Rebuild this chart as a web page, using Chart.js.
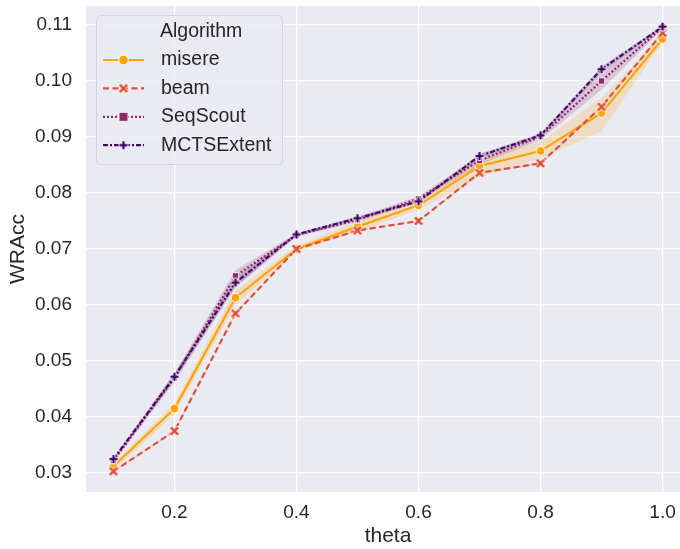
<!DOCTYPE html>
<html lang="en">
<head>
    <meta charset="UTF-8">
    <title>WRAcc by theta</title>
    <style>
        html, body {
            margin: 0;
            padding: 0;
            background: #fff;
            overflow: hidden;
        }

        #chart-box {
            width: 700px;
            height: 549px;
        }
    </style>
</head>
<body>
    <div id="chart-box">
        <canvas id="wracc-chart"></canvas>
    </div>

    <script src="https://cdn.jsdelivr.net/npm/chart.js"></script>

    <script>
        // theta values on the x axis
        const thetas = [0.1, 0.2, 0.3, 0.4, 0.5, 0.6, 0.7, 0.8, 0.9, 1.0];

        const algorithms = ['misere', 'beam', 'SeqScout', 'MCTSExtent'];

        // mean WRAcc per algorithm
        const misere     = [0.0312, 0.0415, 0.0613, 0.0700, 0.0740, 0.0778, 0.0848, 0.0875, 0.0943, 0.1075];
        const beam       = [0.0303, 0.0375, 0.0585, 0.0700, 0.0733, 0.0750, 0.0836, 0.0853, 0.0954, 0.1086];
        const seqScout   = [0.0322, 0.0470, 0.0652, 0.0725, 0.0752, 0.0790, 0.0858, 0.0901, 0.1000, 0.1096];
        const mctsExtent = [0.0325, 0.0472, 0.0640, 0.0726, 0.0755, 0.0785, 0.0866, 0.0903, 0.1021, 0.1097];

        // confidence band bounds
        const misereLow      = [0.0305, 0.0405, 0.0600, 0.0695, 0.0731, 0.0770, 0.0828, 0.0862, 0.0910, 0.1070];
        const misereHigh     = [0.0318, 0.0425, 0.0627, 0.0705, 0.0750, 0.0786, 0.0862, 0.0892, 0.0970, 0.1081];
        const beamLow        = [0.0302, 0.0373, 0.0583, 0.0699, 0.0732, 0.0749, 0.0834, 0.0851, 0.0952, 0.1084];
        const beamHigh       = [0.0304, 0.0377, 0.0587, 0.0701, 0.0734, 0.0751, 0.0838, 0.0855, 0.0956, 0.1088];
        const seqScoutLow    = [0.0319, 0.0462, 0.0632, 0.0722, 0.0748, 0.0784, 0.0850, 0.0895, 0.0985, 0.1093];
        const seqScoutHigh   = [0.0325, 0.0478, 0.0662, 0.0728, 0.0757, 0.0794, 0.0866, 0.0906, 0.1016, 0.1099];
        const mctsExtentLow  = [0.0323, 0.0466, 0.0632, 0.0724, 0.0752, 0.0782, 0.0862, 0.0900, 0.1015, 0.1095];
        const mctsExtentHigh = [0.0327, 0.0478, 0.0648, 0.0728, 0.0758, 0.0788, 0.0870, 0.0906, 0.1026, 0.1099];

        const xTicks = [0.2, 0.4, 0.6, 0.8, 1.0];
        const yTicks = [0.03, 0.04, 0.05, 0.06, 0.07, 0.08, 0.09, 0.10, 0.11];

        const seriesValues = [misere, beam, seqScout, mctsExtent];
        const seriesLow = [misereLow, beamLow, seqScoutLow, mctsExtentLow];
        const seriesHigh = [misereHigh, beamHigh, seqScoutHigh, mctsExtentHigh];

        // styling (inferno, reversed)
        const colors = ['#fca50a', '#dd513a', '#932667', '#420a68'];
        const dashes = [[], [6, 3.5], [2, 2], [5, 2, 2, 2]];
        const markers = ['circle', 'X', 'rect', 'P'];
        const textColor = '#262626';
        const fontFamily = '"Liberation Sans", Arial, sans-serif';

        function rgba(hex, a) {
            const n = parseInt(hex.slice(1), 16);
            return `rgba(${(n >> 16) & 255}, ${(n >> 8) & 255}, ${n & 255}, ${a})`;
        }

        // filled plus / x shaped marker with a white edge
        function shapeMarker(shape, color, size) {
            const s = Math.ceil(size * 1.5) + 2;
            const c = document.createElement('canvas');
            c.width = s;
            c.height = s;
            const g = c.getContext('2d');
            g.translate(s / 2, s / 2);
            if (shape === 'X') g.rotate(Math.PI / 4);
            const r = shape === 'X' ? size * 0.62 : size / 2;
            const w = size / 5.5;
            const pts = [[-w, -r], [w, -r], [w, -w], [r, -w], [r, w], [w, w],
                         [w, r], [-w, r], [-w, w], [-r, w], [-r, -w], [-w, -w]];
            g.beginPath();
            pts.forEach((p, i) => i ? g.lineTo(p[0], p[1]) : g.moveTo(p[0], p[1]));
            g.closePath();
            g.fillStyle = color;
            g.fill();
            g.strokeStyle = '#fff';
            g.lineWidth = 0.9;
            g.stroke();
            return c;
        }

        const pointStyles = markers.map((m, i) =>
            (m === 'X' || m === 'P') ? shapeMarker(m, colors[i], 9) : m);

        const datasets = [];
        algorithms.forEach((name, i) => {
            datasets.push({
                label: name + ' low',
                data: thetas.map((t, j) => ({ x: t, y: seriesLow[i][j] })),
                borderWidth: 0,
                pointRadius: 0,
                fill: false,
                order: 20 + i
            });
            datasets.push({
                label: name + ' high',
                data: thetas.map((t, j) => ({ x: t, y: seriesHigh[i][j] })),
                borderWidth: 0,
                pointRadius: 0,
                backgroundColor: rgba(colors[i], 0.2),
                fill: '-1',
                order: 20 + i
            });
            datasets.push({
                label: name,
                data: thetas.map((t, j) => ({ x: t, y: seriesValues[i][j] })),
                borderColor: colors[i],
                backgroundColor: colors[i],
                borderWidth: 2.2,
                borderDash: dashes[i],
                pointStyle: pointStyles[i],
                pointRadius: markers[i] === 'rect' ? 4.5 : 4.4,
                pointBorderColor: '#fff',
                pointBorderWidth: 0.9,
                pointBackgroundColor: colors[i],
                fill: false,
                order: 10 - i
            });
        });

        const plotBackground = {
            id: 'plotBackground',
            beforeDraw(chart) {
                const { ctx, chartArea: a } = chart;
                ctx.save();
                ctx.fillStyle = '#eaeaf2';
                ctx.fillRect(a.left, a.top, a.right - a.left, a.bottom - a.top);
                ctx.restore();
            }
        };

        // legend box in the upper left of the plot
        const insideLegend = {
            id: 'insideLegend',
            afterDraw(chart) {
                const ctx = chart.ctx;
                const box = { x: 96, y: 15, w: 186, h: 149 };
                ctx.save();
                ctx.beginPath();
                ctx.roundRect(box.x + 0.5, box.y + 0.5, box.w, box.h, 4);
                ctx.fillStyle = 'rgba(234, 234, 242, 0.85)';
                ctx.fill();
                ctx.strokeStyle = '#d4d4da';
                ctx.lineWidth = 1;
                ctx.stroke();

                ctx.font = '19.5px ' + fontFamily;
                ctx.fillStyle = textColor;
                ctx.textBaseline = 'middle';
                ctx.fillText('Algorithm', 160, 32);

                algorithms.forEach((name, i) => {
                    const y = 60 + i * 28.4;
                    ctx.strokeStyle = colors[i];
                    ctx.lineWidth = 2.2;
                    ctx.setLineDash(dashes[i]);
                    ctx.beginPath();
                    ctx.moveTo(103, y);
                    ctx.lineTo(144, y);
                    ctx.stroke();
                    ctx.setLineDash([]);

                    const cx = 123.5;
                    if (markers[i] === 'circle') {
                        ctx.beginPath();
                        ctx.arc(cx, y, 4.8, 0, Math.PI * 2);
                        ctx.fillStyle = colors[i];
                        ctx.fill();
                        ctx.strokeStyle = '#fff';
                        ctx.lineWidth = 0.9;
                        ctx.stroke();
                    } else if (markers[i] === 'rect') {
                        ctx.fillStyle = colors[i];
                        ctx.fillRect(cx - 4.5, y - 4.5, 9, 9);
                        ctx.strokeStyle = '#fff';
                        ctx.lineWidth = 0.9;
                        ctx.strokeRect(cx - 4.5, y - 4.5, 9, 9);
                    } else {
                        const img = pointStyles[i];
                        ctx.drawImage(img, cx - img.width / 2, y - img.height / 2);
                    }

                    ctx.fillStyle = textColor;
                    ctx.fillText(name, 161, y);
                });
                ctx.restore();
            }
        };

        // keep the plot box fixed: no extra room for overhanging tick labels
        function fixBox(scale, size) {
            if (scale.isHorizontal()) scale.height = size;
            else scale.width = size;
            scale.paddingTop = 0;
            scale.paddingBottom = 0;
            scale.paddingLeft = 0;
            scale.paddingRight = 0;
        }

        new Chart(document.getElementById('wracc-chart'), {
            type: 'line',
            data: { datasets },
            options: {
                responsive: true,
                maintainAspectRatio: false,
                animation: false,
                layout: { padding: { top: 6, right: 10, left: 0, bottom: 0 } },
                plugins: {
                    legend: { display: false },
                    tooltip: { enabled: false }
                },
                scales: {
                    x: {
                        type: 'linear',
                        min: 0.055,
                        max: 1.045,
                        afterBuildTicks: axis => { axis.ticks = xTicks.map(v => ({ value: v })); },
                        afterFit: scale => fixBox(scale, 57),
                        ticks: {
                            callback: v => v.toFixed(1),
                            color: textColor,
                            font: { size: 19, family: fontFamily },
                            padding: 9,
                            maxRotation: 0
                        },
                        grid: { color: '#fff', lineWidth: 1.3, drawTicks: false },
                        border: { display: false },
                        title: {
                            display: true,
                            text: 'theta',
                            color: textColor,
                            font: { size: 21, family: fontFamily },
                            padding: 0
                        }
                    },
                    y: {
                        min: 0.02661,
                        max: 0.11339,
                        afterBuildTicks: axis => { axis.ticks = yTicks.map(v => ({ value: v })); },
                        afterFit: scale => fixBox(scale, 86),
                        ticks: {
                            callback: v => v.toFixed(2),
                            color: textColor,
                            font: { size: 19, family: fontFamily },
                            padding: 14
                        },
                        grid: { color: '#fff', lineWidth: 1.3, drawTicks: false },
                        border: { display: false },
                        title: {
                            display: true,
                            text: 'WRAcc',
                            color: textColor,
                            font: { size: 21, family: fontFamily },
                            padding: { top: 6, bottom: 0 }
                        }
                    }
                }
            },
            plugins: [plotBackground, insideLegend]
        });
    </script>
</body>
</html>
